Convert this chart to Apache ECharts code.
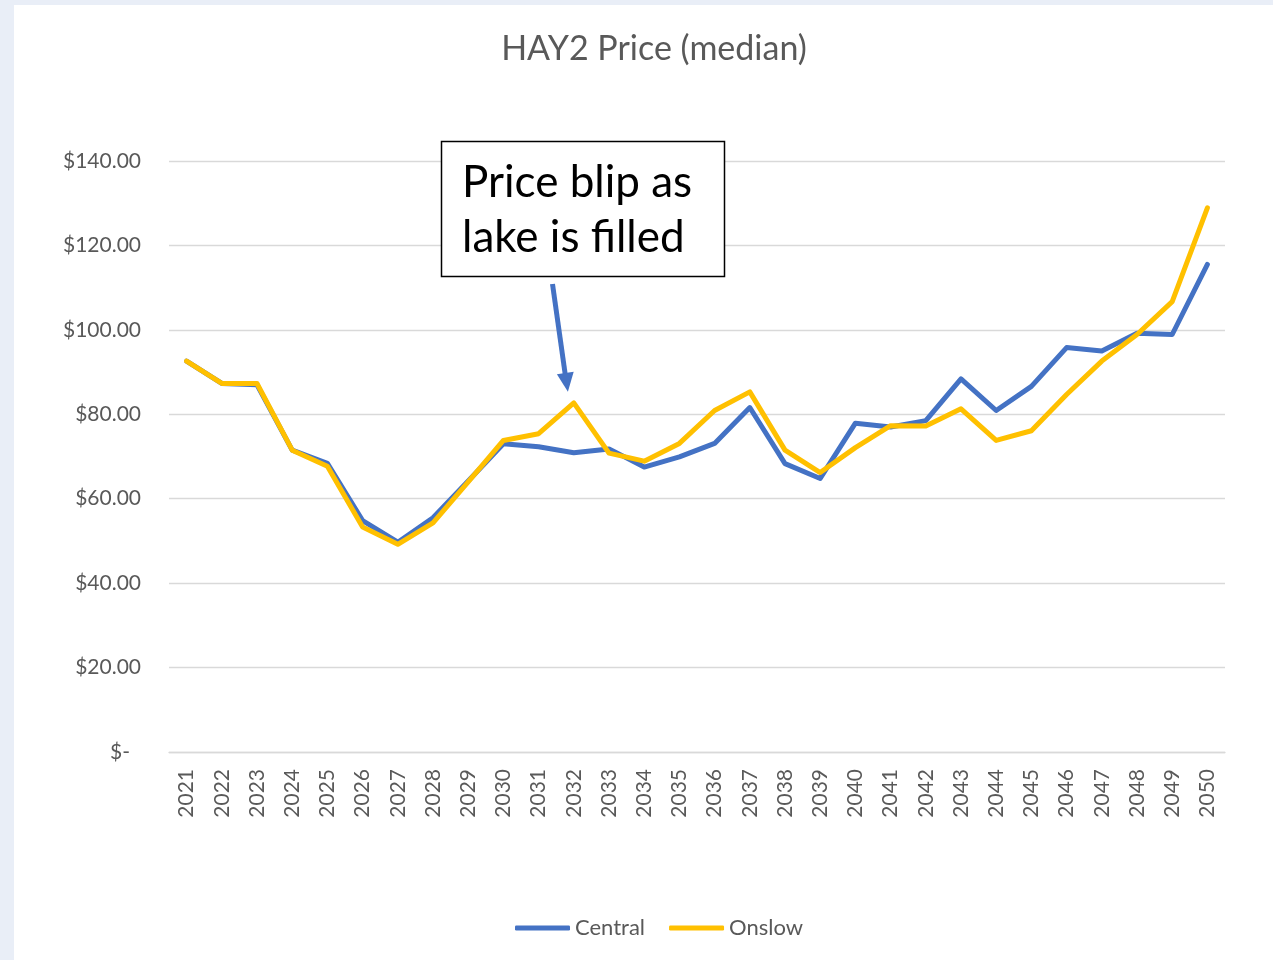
<!DOCTYPE html>
<html>
<head>
<meta charset="utf-8">
<script src="https://cdn.jsdelivr.net/npm/echarts@6/dist/echarts.min.js"></script>
<style>
  html, body { margin: 0; padding: 0; background: #E9EEF7; }
  #paper { position: absolute; left: 14px; top: 5px; right: 0; bottom: 0; background: #ffffff; }
  #chart { position: absolute; left: 0; top: 0; width: 1273px; height: 960px; }
</style>
</head>
<body>
<div id="paper"></div>
<div id="chart"></div>
<script>
const years = ['2021','2022','2023','2024','2025','2026','2027','2028','2029','2030',
  '2031','2032','2033','2034','2035','2036','2037','2038','2039','2040',
  '2041','2042','2043','2044','2045','2046','2047','2048','2049','2050'];
const central = [92.6, 87.3, 87.0, 71.5, 68.4, 54.8, 49.7, 55.5, 64.2, 73.0,
  72.3, 70.9, 71.8, 67.5, 69.9, 73.1, 81.6, 68.3, 64.8, 77.9,
  77.0, 78.5, 88.4, 80.9, 86.6, 95.8, 95.0, 99.2, 98.9, 115.5];
const onslow = [92.6, 87.3, 87.3, 71.5, 67.7, 53.3, 49.2, 54.3, 64.0, 73.8,
  75.4, 82.7, 70.8, 68.9, 73.1, 80.9, 85.3, 71.5, 66.2, 72.1,
  77.3, 77.2, 81.3, 73.8, 76.1, 84.7, 92.6, 98.9, 106.7, 128.9];
const yTicks = [0, 20, 40, 60, 80, 100, 120, 140];
const titleText = 'HAY2 Price (median)';
const noteLines = ['Price blip as', 'lake is filled'];

const FONT = 'Lato';
const GREY = '#595959';
const chart = echarts.init(document.getElementById('chart'), null, { renderer: 'canvas' });

chart.setOption({
  animation: false,
  backgroundColor: 'transparent',
  textStyle: { fontFamily: FONT },
  title: {
    text: titleText,
    left: 654,
    top: 32,
    textAlign: 'center',
    padding: 0,
    textStyle: { fontFamily: FONT, fontSize: 34, fontWeight: 'normal', color: GREY }
  },
  legend: {
    left: 515,
    top: 917,
    padding: 0,
    itemGap: 24,
    itemWidth: 55,
    itemHeight: 5,
    icon: 'roundRect',
    textStyle: { fontFamily: FONT, fontSize: 22, color: GREY },
    data: ['Central', 'Onslow']
  },
  grid: { left: 169, right: 48, top: 161, bottom: 208, containLabel: false },
  xAxis: {
    type: 'category',
    data: years,
    boundaryGap: true,
    axisLine: { show: true, lineStyle: { color: '#D9D9D9', width: 1.3 } },
    axisTick: { show: false },
    axisLabel: { rotate: 90, margin: 17, fontFamily: FONT, fontSize: 21, color: GREY, interval: 0 }
  },
  yAxis: {
    type: 'value',
    min: yTicks[0],
    max: yTicks[yTicks.length - 1],
    interval: 20,
    axisLine: { show: false },
    axisTick: { show: false },
    splitLine: { lineStyle: { color: '#D9D9D9', width: 1.3 } },
    axisLabel: {
      margin: 28,
      fontFamily: FONT, fontSize: 21, color: GREY,
      formatter: function (v) { return v === 0 ? '{z|$-}' : '$' + v.toFixed(2); },
      rich: { z: { fontFamily: FONT, fontSize: 21, color: GREY, padding: [0, 11, 0, 0] } }
    }
  },
  series: [
    {
      name: 'Central', type: 'line', data: central, symbol: 'none', smooth: false,
      itemStyle: { color: '#4472C4' },
      lineStyle: { color: '#4472C4', width: 5, cap: 'round', join: 'round' },
      z: 2
    },
    {
      name: 'Onslow', type: 'line', data: onslow, symbol: 'none', smooth: false,
      itemStyle: { color: '#FFC000' },
      lineStyle: { color: '#FFC000', width: 5, cap: 'round', join: 'round' },
      z: 3
    }
  ],
  graphic: {
    elements: [
      {
        type: 'rect', z: 10,
        shape: { x: 441.5, y: 141.5, width: 283, height: 135 },
        style: { fill: '#ffffff', stroke: '#000000', lineWidth: 1.5 }
      },
      {
        type: 'text', z: 11, x: 462, y: 183,
        style: { text: noteLines[0], fontFamily: FONT, fontSize: 44, fill: '#000000', align: 'left', verticalAlign: 'middle' }
      },
      {
        type: 'text', z: 11, x: 462, y: 238,
        style: { text: noteLines[1], fontFamily: FONT, fontSize: 44, fill: '#000000', align: 'left', verticalAlign: 'middle' }
      },
      {
        type: 'line', z: 10,
        shape: { x1: 552.5, y1: 284, x2: 565.3, y2: 375 },
        style: { stroke: '#4472C4', lineWidth: 5 }
      },
      {
        type: 'polygon', z: 10,
        shape: { points: [[556.9, 374.2], [573.7, 371.8], [567.9, 391.8]] },
        style: { fill: '#4472C4' }
      }
    ]
  }
});
</script>
</body>
</html>
